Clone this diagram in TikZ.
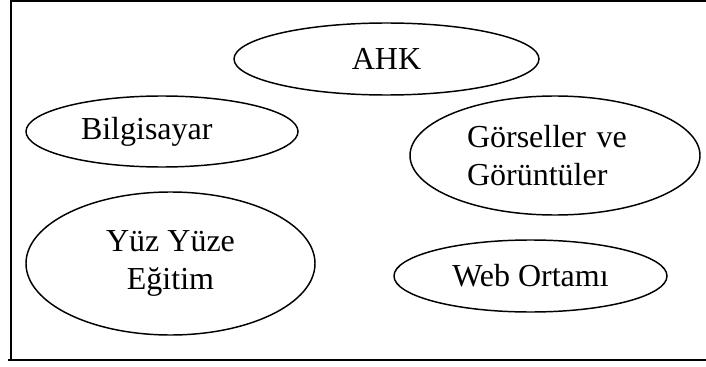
\documentclass[tikz,border=0pt]{standalone}
\usepackage{fontspec}
\setmainfont{Liberation Serif}
\usetikzlibrary{shapes.geometric}
\begin{document}
\begin{tikzpicture}[x=0.75pt,y=-0.75pt,
  oval/.style={draw,ellipse,line width=1.1pt,inner sep=0pt,
    font=\fontsize{24}{28}\selectfont}]
  \useasboundingbox (0,0) rectangle (706,367);
  % frame, open on the right
  \draw[line width=1.1pt] (706,1)--(11,1)--(11,360);
  \draw[line width=1.6pt] (8,360)--(706,360);
  \node[oval,minimum width=228.75pt,minimum height=54pt] (ahk) at (386.5,59) {AHK};
  \node[oval,minimum width=204pt,minimum height=53.25pt,text width=121.5pt,align=left] (pc) at (162,131.5) {Bilgisayar};
  \node[oval,minimum width=217.5pt,minimum height=89.25pt,text width=132pt,align=left] (img) at (555,155.5) {Görseller ve\\Görüntüler};
  \node[oval,minimum width=216.75pt,minimum height=107.25pt,align=center] (f2f) at (170.5,263.5) {Yüz Yüze\\Eğitim};
  \node[oval,minimum width=204.75pt,minimum height=54pt] (web) at (530.5,276) {Web Ortamı};
\end{tikzpicture}
\end{document}
